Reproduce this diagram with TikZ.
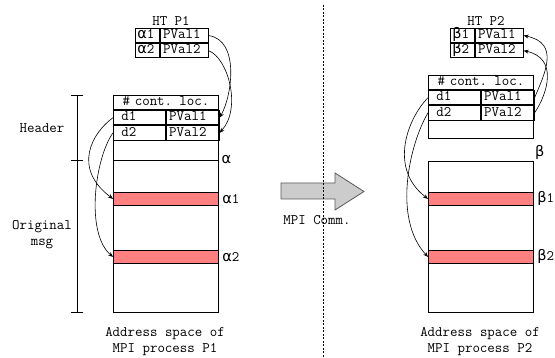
\documentclass[tikz,border=0pt]{standalone}
\usepackage{fontspec}
\newfontfamily\grk{DejaVu Sans}
\usepackage{xcolor}
\usetikzlibrary{positioning,arrows.meta}
\definecolor{bandred}{HTML}{FF8080}
\definecolor{commgray}{HTML}{CCCCCC}

\begin{document}
\begin{tikzpicture}[x=1pt,y=1pt,>={Stealth[length=5pt,width=4pt]},
  every node/.style={font=\ttfamily\fontsize{14.5}{16}\selectfont},
  box/.style={draw,line width=0.8pt},
  cell/.style={box,anchor=north west,inner xsep=3pt,inner ysep=0pt,minimum height=14.33pt,text height=9pt,text depth=2.5pt,align=left},
  key/.style={cell,inner xsep=2pt,text width=20pt},
  val/.style={cell,text width=42pt},
  dcell/.style={cell,inner xsep=8pt,text width=36pt},
  pcell/.style={cell,text width=47pt},
  wide/.style={cell,text width=99pt,align=center},
  area/.style={box,anchor=north west,inner sep=0pt,minimum width=105pt},
  band/.style={area,fill=bandred,minimum height=13pt},
  title/.style={anchor=south,inner sep=1.5pt},
  link/.style={->,line width=0.6pt}]
\useasboundingbox (0,0) rectangle (555,358);

% process P1
\node[key] (kA1) at (135,330) {{\grk α}1};
\node[val] (vA1) at (kA1.north east) {PVal1};
\node[key] (kA2) at (kA1.south west) {{\grk α}2};
\node[val] (vA2) at (kA2.north east) {PVal2};
\node[title] (htP1) at (171,330.5) {HT P1};

\node[area,minimum height=217pt] (memA) at (113,263) {};
\node[wide] (locA) at (memA.north west) {\# cont. loc.};
\node[dcell] (dA1) at (locA.south west) {d1};
\node[pcell] (pA1) at (dA1.north east) {PVal1};
\node[dcell] (dA2) at (dA1.south west) {d2};
\node[pcell] (pA2) at (dA2.north east) {PVal2};
\draw[box] (113,198) -- (218,198) node[anchor=west] (lblA) {\grk α};
\node[band] (bA1) at (113,166) {};
\node[band] (bA2) at (113,108) {};
\node[right=0pt of bA1] (lblA1) {{\grk α}1};
\node[right=0pt of bA2] (lblA2) {{\grk α}2};

% scale on the left
\draw[box] (77,263) -- (77,46);
\foreach \y in {263,198,46}
  \draw[box] (71,\y) -- (83,\y);
\node (hdr) at (42,230) {Header};
\node[align=center] (orig) at (42,123) {Original\\msg};
\node[align=center] (capA) at (165,16) {Address space of\\MPI process P1};

\draw[link] (vA1.east) .. controls (240,318) and (232,262) .. (pA1.east);
\draw[link] (vA2.east) .. controls (228,300) and (242,250) .. (pA2.east);
\draw[link] (dA1.west) .. controls (92,225) and (72,190) .. (bA1.west);
\draw[link] (dA2.west) .. controls (95,200) and (85,125) .. (bA2.west);

% transfer
\draw[box,draw=gray!70!black,fill=commgray] (281,175) -- (335,175) -- (335,185) -- (364,166.5)
  -- (335,148) -- (335,159) -- (281,159) -- cycle;
\node (comm) at (317,138) {MPI Comm.};

% process P2
\node[key] (kB1) at (450,330) {{\grk β}1};
\node[val] (vB1) at (kB1.north east) {PVal1};
\node[key] (kB2) at (kB1.south west) {{\grk β}2};
\node[val] (vB2) at (kB2.north east) {PVal2};
\node[title] (htP2) at (486,330.5) {HT P2};

\node[area,minimum height=63pt] (hdrB) at (428,283) {};
\node[wide] (locB) at (hdrB.north west) {\# cont. loc.};
\node[dcell] (dB1) at (locB.south west) {d1};
\node[pcell] (pB1) at (dB1.north east) {PVal1};
\node[dcell] (dB2) at (dB1.south west) {d2};
\node[pcell] (pB2) at (dB2.north east) {PVal2};

\node[area,minimum height=151pt] (memB) at (428,197) {};
\node[anchor=south west,inner sep=1pt] (lblB) at (memB.north east) {\grk β};
\node[band] (bB1) at (428,166) {};
\node[band] (bB2) at (428,108) {};
\node[right=0pt of bB1] (lblB1) {{\grk β}1};
\node[right=0pt of bB2] (lblB2) {{\grk β}2};
\node[align=center] (capB) at (480,16) {Address space of\\MPI process P2};

\draw[link] (pB1.east) .. controls (545,285) and (560,315) .. (vB1.east);
\draw[link] (pB2.east) .. controls (548,265) and (558,300) .. (vB2.east);
\draw[link] (dB1.west) .. controls (408,240) and (388,190) .. (bB1.west);
\draw[link] (dB2.west) .. controls (410,215) and (392,140) .. (bB2.west);

% separator
\draw[line width=0.8pt,dash pattern=on 2pt off 1.5pt] (323,353) -- (323,0);
\end{tikzpicture}
\end{document}
